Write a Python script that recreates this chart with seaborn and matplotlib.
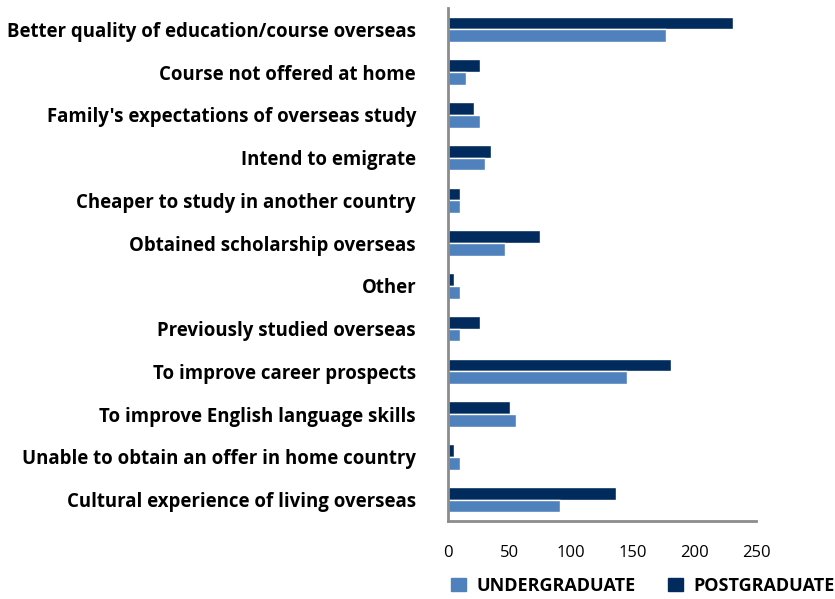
import pandas as pd
import seaborn as sns
import matplotlib.pyplot as plt
from matplotlib.patches import Patch

# Reasons for studying overseas
reasons = [
    "Better quality of education/course overseas",
    "Course not offered at home",
    "Family's expectations of overseas study",
    "Intend to emigrate",
    "Cheaper to study in another country",
    "Obtained scholarship overseas",
    "Other",
    "Previously studied overseas",
    "To improve career prospects",
    "To improve English language skills",
    "Unable to obtain an offer in home country",
    "Cultural experience of living overseas",
]
postgraduate = [231, 26, 21, 35, 10, 75, 5, 26, 181, 50, 5, 136]
undergraduate = [177, 15, 26, 30, 10, 46, 10, 10, 145, 55, 10, 91]
groups = ["POSTGRADUATE", "UNDERGRADUATE"]
colors = {"POSTGRADUATE": "#002B5C", "UNDERGRADUATE": "#4F81BD"}

df = pd.DataFrame({
    "reason": reasons * 2,
    "group": ["POSTGRADUATE"] * len(reasons) + ["UNDERGRADUATE"] * len(reasons),
    "value": postgraduate + undergraduate,
})

sns.set_style("white")
plt.rcParams["font.family"] = ["Open Sans", "DejaVu Sans"]
plt.rcParams["text.color"] = "black"

fig = plt.figure(figsize=(8.35, 5.99), dpi=100)
ax = fig.add_axes([0.5365, 0.1302, 0.3689, 0.8564])

sns.barplot(data=df, y="reason", x="value", hue="group", hue_order=groups,
            palette=colors, orient="h", width=0.6, saturation=1,
            legend=False, ax=ax)

ax.set_xlim(0, 250)
ax.set_xticks([0, 50, 100, 150, 200, 250])
ax.set_xlabel("")
ax.set_ylabel("")
ax.set_ylim(11.5, -0.5)

for side in ["top", "right"]:
    ax.spines[side].set_visible(False)
for side in ["left", "bottom"]:
    ax.spines[side].set_color("#8c8c8c")
    ax.spines[side].set_linewidth(2)

ax.tick_params(axis="x", length=0, pad=17, labelsize=12, labelcolor="black")
ax.tick_params(axis="y", length=0, pad=23, labelsize=13.4, labelcolor="black")
for lbl in ax.get_yticklabels():
    lbl.set_fontweight("bold")

handles = [Patch(color=colors["UNDERGRADUATE"], label="UNDERGRADUATE"),
           Patch(color=colors["POSTGRADUATE"], label="POSTGRADUATE")]
fig.legend(handles=handles, loc="center left", bbox_to_anchor=(0.532, 0.022),
           ncol=2, frameon=False, handlelength=0.8, handleheight=0.8,
           columnspacing=1.8, handletextpad=0.6, borderaxespad=0,
           labelcolor="black", prop={"weight": "bold", "size": 13})

fig.savefig("out.png", dpi=100)
